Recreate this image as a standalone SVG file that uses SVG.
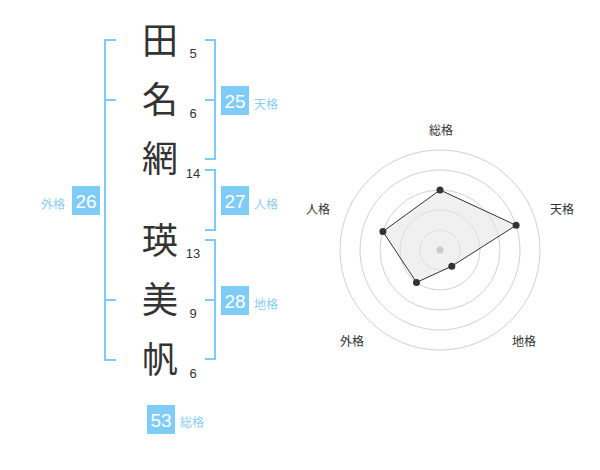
<svg xmlns="http://www.w3.org/2000/svg" width="600" height="470" viewBox="0 0 600 470">
<style>
.ch{font-family:"Noto Sans CJK JP","Noto Sans CJK SC",sans-serif;font-size:36px;fill:#333;text-anchor:middle}
.st{font-family:"Liberation Sans",Arial,sans-serif;font-size:13px;fill:#333;text-anchor:middle}
.br{fill:none;stroke:#7fcbf7;stroke-width:2}
.box{fill:#80ccf8}
.bn{font-family:"Liberation Sans",Arial,sans-serif;font-size:19px;fill:#fff;text-anchor:middle}
.bl{font-family:"Noto Sans CJK JP","Noto Sans CJK SC",sans-serif;font-size:12px;fill:#8ccdf2}
.rl{font-family:"Noto Sans CJK JP","Noto Sans CJK SC",sans-serif;font-size:12px;fill:#333;text-anchor:middle}
.ring{fill:none;stroke:#d0d0d0;stroke-width:1}
.pt{fill:#333}
</style>
<rect width="600" height="470" fill="#fff"/>
<g id="connectors">
<path class="br" d="M116,40 H105 V360 H116 M105,100 H116 M105,300 H116"/>
<path class="br" d="M205,40 H215 V159 H205 M205,100 H215"/>
<path class="br" d="M205,170 H215 V230 H205"/>
<path class="br" d="M205,240 H215 V359 H205 M205,300 H215"/>
</g>
<g id="name">
<g id="c1"><text class="ch" x="160" y="54">田</text><text class="st" x="193" y="57.5">5</text></g>
<g id="c2"><text class="ch" x="160" y="113">名</text><text class="st" x="193" y="118">6</text></g>
<g id="c3"><text class="ch" x="160" y="172">網</text><text class="st" x="193" y="178">14</text></g>
<g id="c4"><text class="ch" x="160" y="254">瑛</text><text class="st" x="193" y="257.5">13</text></g>
<g id="c5"><text class="ch" x="160" y="313">美</text><text class="st" x="193" y="318">9</text></g>
<g id="c6"><text class="ch" x="160" y="373">帆</text><text class="st" x="193" y="378">6</text></g>
</g>
<g id="tenkaku"><rect class="box" x="221" y="86" width="28" height="29"/><text class="bn" x="235" y="107.5">25</text><text class="bl" x="254" y="109">天格</text></g>
<g id="jinkaku"><rect class="box" x="221" y="186" width="28" height="29"/><text class="bn" x="235" y="207.5">27</text><text class="bl" x="254" y="209">人格</text></g>
<g id="chikaku"><rect class="box" x="221" y="286" width="28" height="29"/><text class="bn" x="235" y="307.5">28</text><text class="bl" x="254" y="309">地格</text></g>
<g id="gaikaku"><rect class="box" x="72" y="186" width="28" height="29"/><text class="bn" x="86" y="207.5">26</text><text class="bl" x="41" y="209">外格</text></g>
<g id="soukaku"><rect class="box" x="147" y="405" width="28" height="29"/><text class="bn" x="161" y="426.5">53</text><text class="bl" x="180" y="427">総格</text></g>
<g id="radar">
<circle class="ring" cx="440" cy="250" r="20"/>
<circle class="ring" cx="440" cy="250" r="40"/>
<circle class="ring" cx="440" cy="250" r="60"/>
<circle class="ring" cx="440" cy="250" r="80"/>
<circle class="ring" cx="440" cy="250" r="100"/>
<polygon points="440,190 516.1,225.3 451.8,266.2 416.5,282.4 382.9,231.5" fill="#e6e6e6" fill-opacity="0.6" stroke="#333" stroke-width="1"/>
<circle cx="440" cy="250" r="3.5" fill="#ccc"/>
<circle class="pt" cx="440" cy="190" r="3.5"/>
<circle class="pt" cx="516.1" cy="225.3" r="3.5"/>
<circle class="pt" cx="451.8" cy="266.2" r="3.5"/>
<circle class="pt" cx="416.5" cy="282.4" r="3.5"/>
<circle class="pt" cx="382.9" cy="231.5" r="3.5"/>
<text class="rl" x="441" y="135">総格</text>
<text class="rl" x="562" y="213.5">天格</text>
<text class="rl" x="524" y="346">地格</text>
<text class="rl" x="352" y="346">外格</text>
<text class="rl" x="318" y="213.5">人格</text>
</g>
</svg>
